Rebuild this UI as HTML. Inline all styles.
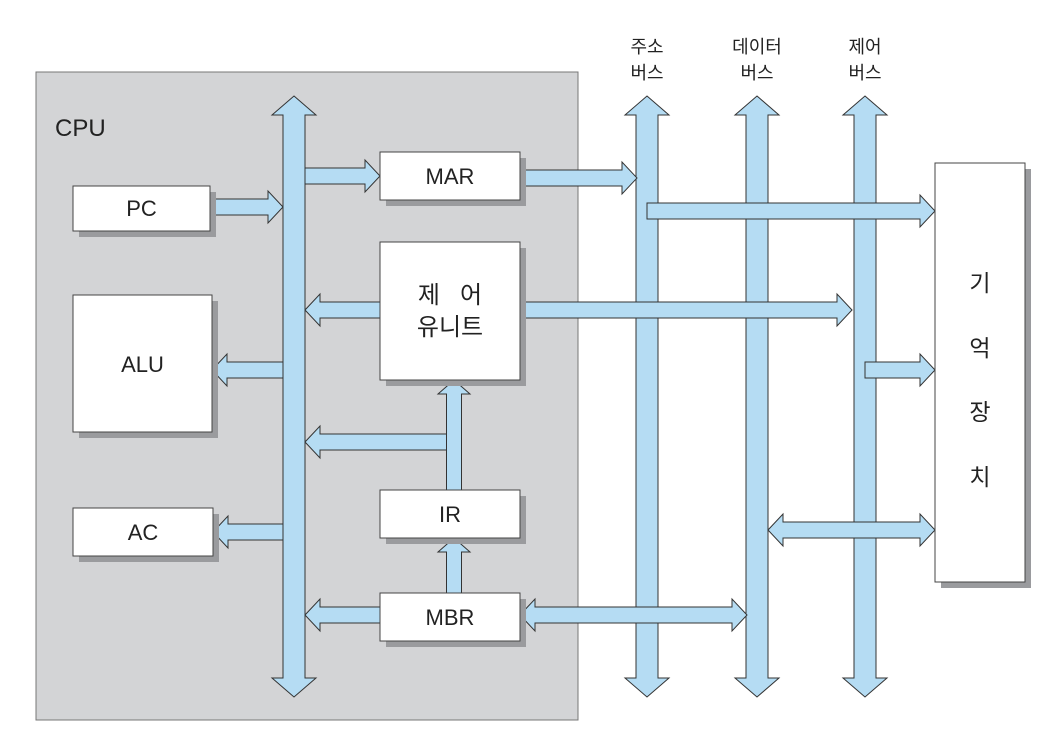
<!DOCTYPE html>
<html><head><meta charset="utf-8"><style>
body{margin:0;background:#fff;width:1060px;height:754px;overflow:hidden}
svg{display:block}
text{font-family:"Liberation Sans","Noto Sans CJK KR",sans-serif;fill:#222}
</style></head><body>
<svg id="s" width="1060" height="754" viewBox="0 0 1060 754" xmlns="http://www.w3.org/2000/svg">
<rect x="36" y="72" width="542" height="648" fill="#d3d4d6" stroke="#777" stroke-width="1"/>
<text x="55" y="136" font-size="24">CPU</text>
<g id="arr"></g>
<g id="box"></g>
<text x="647" y="53" font-size="18" text-anchor="middle">주소</text>
<text x="647" y="79" font-size="18" text-anchor="middle">버스</text>
<text x="757" y="53" font-size="18" text-anchor="middle">데이터</text>
<text x="757" y="79" font-size="18" text-anchor="middle">버스</text>
<text x="865" y="53" font-size="18" text-anchor="middle">제어</text>
<text x="865" y="79" font-size="18" text-anchor="middle">버스</text>
</svg>
<script>
var NS="http://www.w3.org/2000/svg";
var arr=document.getElementById('arr'),box=document.getElementById('box');
function poly(pts,g){var p=document.createElementNS(NS,'polygon');p.setAttribute('points',pts.map(function(a){return a.join(',')}).join(' '));p.setAttribute('fill','#b5dcf3');p.setAttribute('stroke','#333');p.setAttribute('stroke-width','1');(g||arr).appendChild(p);}
function h(x0,x1,cy,hl,hr){var s=8,H=16,L=15,p=[];
 if(hl){p.push([x0,cy],[x0+L,cy-H],[x0+L,cy-s]);}else p.push([x0,cy-s]);
 if(hr){p.push([x1-L,cy-s],[x1-L,cy-H],[x1,cy],[x1-L,cy+H],[x1-L,cy+s]);}else p.push([x1,cy-s],[x1,cy+s]);
 if(hl){p.push([x0+L,cy+s],[x0+L,cy+H]);}else p.push([x0,cy+s]);
 poly(p);}
function v(cx,y0,y1,ht,hb,s,H,L){s=s||11;H=H||22;L=L||19;var p=[];
 if(ht){p.push([cx,y0],[cx+H,y0+L],[cx+s,y0+L]);}else p.push([cx+s,y0]);
 if(hb){p.push([cx+s,y1-L],[cx+H,y1-L],[cx,y1],[cx-H,y1-L],[cx-s,y1-L]);}else p.push([cx+s,y1],[cx-s,y1]);
 if(ht){p.push([cx-s,y0+L],[cx-H,y0+L]);}else p.push([cx-s,y0]);
 poly(p);}
function b(x,y,w,hh,t,fs,ty){var r=document.createElementNS(NS,'rect');r.setAttribute('x',x+6);r.setAttribute('y',y+6);r.setAttribute('width',w);r.setAttribute('height',hh);r.setAttribute('fill','#9a9b9e');box.appendChild(r);
 r=document.createElementNS(NS,'rect');r.setAttribute('x',x);r.setAttribute('y',y);r.setAttribute('width',w);r.setAttribute('height',hh);r.setAttribute('fill','#fff');r.setAttribute('stroke','#444');box.appendChild(r);
 (t||[]).forEach(function(tt,i){var e=document.createElementNS(NS,'text');e.setAttribute('x',x+w/2);e.setAttribute('y',ty[i]);e.setAttribute('font-size',fs);e.setAttribute('text-anchor','middle');e.setAttribute('xml:space','preserve');e.setAttribute('style','white-space:pre');e.textContent=tt;box.appendChild(e);});}
h(294,380,176,false,true);
h(210,283,207,false,true);
h(305,390,310,true,false);
h(212,294,370,true,false);
h(305,454,442,true,false);
h(213,294,532,true,false);
h(305,390,615,true,false);
v(294,96,697,true,true);
v(454,380,490,true,false,7.5,16,14);
v(454,538,593,true,false,7.5,16,14);
v(647,96,697,true,true);
v(757,96,697,true,true);
v(865,96,697,true,true);
h(520,637,178,false,true);
h(647,935,211,false,true);
h(520,852,310,false,true);
h(865,935,370,false,true);
h(520,747,615,true,true);
h(768,935,530,true,true);
b(73,186,137,45,['PC'],22,[216]);
b(73,295,139,137,['ALU'],22,[372]);
b(73,508,140,48,['AC'],22,[540]);
b(380,152,140,48,['MAR'],22,[184]);
b(380,242,140,138,['제   어','유니트'],24,[303,335]);
b(380,490,140,48,['IR'],22,[522]);
b(380,593,140,48,['MBR'],22,[625]);
b(935,163,90,419,['기','억','장','치'],23,[291,356,420,485]);
</script>
</body></html>
